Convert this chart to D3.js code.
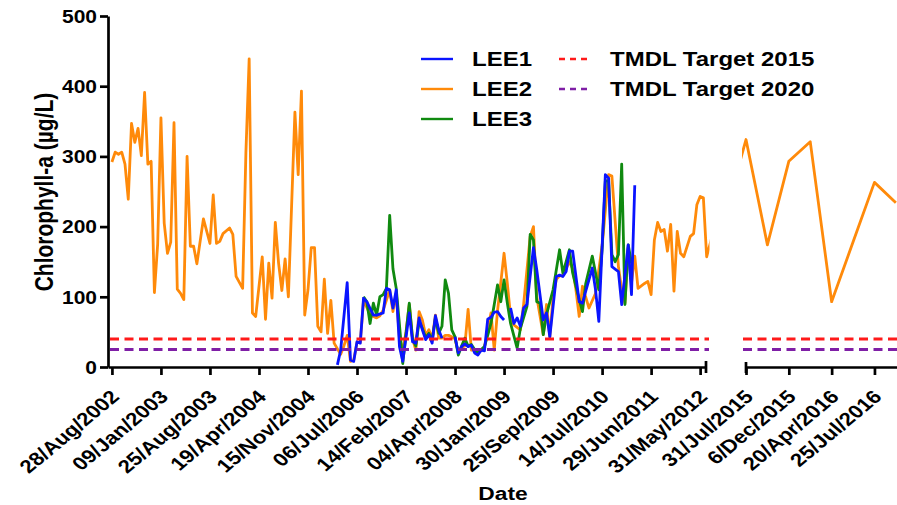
<!DOCTYPE html>
<html>
<head>
<meta charset="utf-8">
<script src="https://cdn.jsdelivr.net/npm/d3@7"></script>
<style>
  body { margin: 0; background: #fff; }
  svg { display: block; }
  text { font-family: "Liberation Sans", Arial, sans-serif; font-weight: bold; fill: #000; }
</style>
</head>
<body>
<svg id="chart" width="897" height="505"></svg>
<script>
// ---- data -------------------------------------------------------------
const yTicks = [0, 100, 200, 300, 400, 500];

// sampling-run index of each labelled tick (15 runs per tick, early period)
const earlyTickSamples = [0, 15, 30, 45, 60, 75, 90, 105, 120, 135, 150, 165, 180];
const earlyDates = ["28/Aug/2002", "09/Jan/2003", "25/Aug/2003", "19/Apr/2004", "15/Nov/2004",
  "06/Jul/2006", "14/Feb/2007", "04/Apr/2008", "30/Jan/2009", "25/Sep/2009",
  "14/Jul/2010", "29/Jun/2011", "31/May/2012"];

const lateTickSamples = [0, 2, 4, 6];
const lateDates = ["31/Jul/2015", "6/Dec/2015", "20/Apr/2016", "25/Jul/2016"];

// LEE2, 2002-2012 (run index, chlorophyll-a µg/L)
const lee2Sample = [0,1,2,3,4,5,6,7,8,9,10,11,12,13,14,15,16,17,18,19,20,21,22,23,24,25,26,28,30,31,32,33,34,36,37,38,40,41,42,43,44,46,47,48,49,50,51,52,53,54,56,57,58,59,60,61,62,63,64,65,66,67,68,70,71,72,73,74,75,76,77,78,79,80,81,82,83,84,85,86,87,88,89,90,91,92,93,94,95,96,97,98,99,100,101,102,103,104,105,106,107,108,109,110,111,112,113,114,116,117,118,119,120,121,122,123,125,126,128,129,130,132,133,134,135,136,137,138,139,140,141,142,143,144,146,148,150,152,153,155,156,157,158,159,160,161,163,164,165,166,167,168,169,170,171,172,173,174,175,177,178,179,180,181,182];
const lee2Value  = [292,306,303,306,289,239,347,320,340,301,391,289,293,106,175,355,205,162,178,348,111,105,96,300,172,172,147,211,176,245,176,179,190,198,189,129,112,305,439,77,72,157,68,148,98,206,148,109,154,100,363,274,393,74,110,170,170,58,50,125,48,95,34,18,30,45,8,10,35,35,95,85,75,72,70,73,81,95,110,79,105,40,24,50,89,40,24,79,67,45,53,40,74,41,41,45,45,43,40,20,28,30,82,24,25,20,24,28,77,24,80,120,162,119,72,60,53,90,186,200,100,46,89,43,100,125,130,130,140,150,140,110,72,115,84,105,172,274,272,143,110,91,170,120,158,112,119,122,103,181,206,193,196,165,203,108,193,162,157,186,190,231,243,241,157];

// LEE2, 2015-2016
const lee2LateSample = [0, 1, 2, 3, 4, 5, 6, 7];
const lee2LateValue  = [324, 174, 293, 321, 93, 178, 263, 234];

// LEE1 (null = no sample, line breaks)
const lee1Sample = [69,70,72,73,74,75,76,77,78,80,81,83,84,85,86,87,88,89,91,92,93,94,95,96,97,98,99,100,101,102,105,106,107,108,109,110,111,112,113,114,115,116,117,118,119,120,121,122,123,124,125,126,127,129,130,132,133,134,135,136,137,138,139,140,141,142,143,144,145,147,148,149,151,152,153,155,156,158,159,160];
const lee1Value  = [3,24,120,10,8,36,34,98,93,74,74,77,112,110,84,110,29,8,77,36,34,70,53,39,46,34,73,53,41,null,43,20,29,33,29,31,20,17,24,23,68,71,78,79,72,67,null,84,62,70,58,84,89,170,139,67,77,43,86,129,131,129,136,165,165,129,93,91,108,141,110,65,274,269,143,136,89,174,103,259];

// LEE3
const lee3Sample = [77,78,79,80,81,82,83,84,85,86,87,88,89,91,92,93,94,95,96,97,98,99,100,101,102,103,104,105,106,107,108,109,110,111,112,113,114,115,116,117,118,119,120,121,122,124,125,127,128,129,130,131,132,133,135,137,138,139,140,141,143,144,145,147,148,149,150,151,152,153,154,155,156,157,158,159];
const lee3Value  = [100,93,62,91,74,100,103,112,216,140,112,60,5,91,40,30,65,55,42,48,38,70,48,58,124,105,53,43,17,30,41,30,32,25,20,25,29,45,62,89,117,93,124,91,62,27,55,86,189,181,93,91,46,75,110,167,134,150,167,134,96,79,119,158,134,110,167,265,265,160,150,160,289,89,174,148];

const targets = [
  { name: "TMDL Target 2015", value: 40, color: "#ff1a1a" },
  { name: "TMDL Target 2020", value: 25, color: "#7f1fa6" }
];
const seriesColors = { LEE1: "#0a14ff", LEE2: "#ff8a0a", LEE3: "#108a10" };

// ---- layout -----------------------------------------------------------
const SX = 1.2;                 // horizontal widening of all lettering
const svg = d3.select("#chart");
const yBase = 367, yTop = 16;
const earlyRange = [108, 706], lateRange = [746, 898];

const y = d3.scaleLinear().domain([0, 500]).range([yBase, yTop]);
const xEarly = d3.scaleLinear().domain([-1.2, 181.8]).range(earlyRange);
const xLate = d3.scaleLinear().domain([0, 7.1]).range(lateRange);

const zip = (s, v) => s.map((d, i) => ({ s: d, v: v[i] }));
const lee2Early = zip(lee2Sample, lee2Value);
const lee2Late = zip(lee2LateSample, lee2LateValue);
const lee1 = zip(lee1Sample, lee1Value);
const lee3 = zip(lee3Sample, lee3Value);

// clipping regions of the two axis segments
const defs = svg.append("defs");
defs.append("clipPath").attr("id", "clipEarly").append("rect")
  .attr("x", earlyRange[0]).attr("y", 0).attr("width", 709.5 - earlyRange[0]).attr("height", yBase + 2);
defs.append("clipPath").attr("id", "clipLate").append("rect")
  .attr("x", 742).attr("y", 0).attr("width", 897 - 742).attr("height", yBase + 2);

// the LEE2 line runs on across the axis break; each side shows its clipped stub
const bridgeEarly = { s: lee2Sample[lee2Sample.length - 1] + 9.5, v: lee2LateValue[0] };
const bridgeLate = { s: -1.5, v: lee2Value[lee2Value.length - 1] };

const lineEarly = d3.line().defined(d => d.v != null).x(d => xEarly(d.s)).y(d => y(d.v));
const lineLate = d3.line().x(d => xLate(d.s)).y(d => y(d.v));

const gEarly = svg.append("g").attr("clip-path", "url(#clipEarly)");
const gLate = svg.append("g").attr("clip-path", "url(#clipLate)");

const lw = 2.8;
function drawSeries(g, data, line, color) {
  g.append("path").datum(data)
    .attr("d", line).attr("fill", "none").attr("stroke", color)
    .attr("stroke-width", lw).attr("stroke-linejoin", "round");
}
drawSeries(gEarly, lee2Early.concat([bridgeEarly]), lineEarly, seriesColors.LEE2);
drawSeries(gEarly, lee3, lineEarly, seriesColors.LEE3);
drawSeries(gEarly, lee1, lineEarly, seriesColors.LEE1);
drawSeries(gLate, [bridgeLate].concat(lee2Late), lineLate, seriesColors.LEE2);

// TMDL target lines across both segments
targets.forEach(t => {
  [[earlyRange[0] + 2, 709], [743, 897]].forEach(([x0, x1]) => {
    svg.append("line").attr("x1", x0).attr("x2", x1)
      .attr("y1", y(t.value)).attr("y2", y(t.value))
      .attr("stroke", t.color).attr("stroke-width", 3)
      .attr("stroke-dasharray", "9,5.5");
  });
});

// ---- axes -------------------------------------------------------------
const axisW = 2.7;
const yAxis = svg.append("g").attr("transform", `translate(${earlyRange[0]},0)`)
  .call(d3.axisLeft(y).tickValues(yTicks).tickSize(8).tickSizeOuter(0).tickFormat(d3.format("d")));
yAxis.select(".domain").attr("stroke-width", axisW);
yAxis.selectAll(".tick line").attr("stroke-width", axisW);
yAxis.selectAll(".tick text")
  .attr("x", null).attr("dy", "0.36em")
  .attr("transform", `translate(-11,0) scale(${SX},1)`)
  .style("font-size", "17.5px");

function bottomAxis(scale, tickVals, labels) {
  const g = svg.append("g").attr("transform", `translate(0,${yBase})`)
    .call(d3.axisBottom(scale).tickValues(tickVals).tickSize(8).tickSizeOuter(0)
      .tickFormat((d, i) => labels[i]));
  g.select(".domain").attr("stroke-width", axisW);
  g.selectAll(".tick line").attr("stroke-width", axisW);
  g.selectAll(".tick text")
    .attr("y", null).attr("dy", null)
    .attr("text-anchor", "end")
    .attr("transform", `translate(8,31) scale(${SX},1) rotate(-45)`)
    .style("font-size", "18.5px");
  return g;
}
bottomAxis(xEarly, earlyTickSamples, earlyDates);
bottomAxis(xLate, lateTickSamples, lateDates);

// break marks: end caps of both segments
svg.append("line").attr("x1", earlyRange[1]).attr("x2", earlyRange[1])
  .attr("y1", yBase - 6).attr("y2", yBase + 6).attr("stroke", "#000").attr("stroke-width", axisW);
svg.append("line").attr("x1", lateRange[0]).attr("x2", lateRange[0])
  .attr("y1", yBase - 5).attr("y2", yBase + 6).attr("stroke", "#000").attr("stroke-width", axisW);

// axis titles
svg.append("text")
  .attr("transform", `translate(53,192) scale(${SX},1) rotate(-90)`)
  .attr("text-anchor", "middle").style("font-size", "21px")
  .text("Chlorophyll-a (µg/L)");
svg.append("text")
  .attr("transform", `translate(503,500) scale(${SX},1)`)
  .attr("text-anchor", "middle").style("font-size", "19px")
  .text("Date");

// ---- legend -----------------------------------------------------------
const legendItems = [
  { name: "LEE1", color: seriesColors.LEE1, dash: null, col: 0, row: 0 },
  { name: "LEE2", color: seriesColors.LEE2, dash: null, col: 0, row: 1 },
  { name: "LEE3", color: seriesColors.LEE3, dash: null, col: 0, row: 2 },
  { name: targets[0].name, color: targets[0].color, dash: "6,5", col: 1, row: 0 },
  { name: targets[1].name, color: targets[1].color, dash: "6,5", col: 1, row: 1 }
];
const legend = svg.append("g");
legendItems.forEach(it => {
  const x0 = it.col === 0 ? 421 : 559;
  const yy = 59 + it.row * 30;
  legend.append("line").attr("x1", x0).attr("x2", x0 + 32).attr("y1", yy).attr("y2", yy)
    .attr("stroke", it.color).attr("stroke-width", 2.4)
    .attr("stroke-dasharray", it.dash);
  legend.append("text")
    .attr("transform", `translate(${x0 + 51},${yy + 7}) scale(${SX},1)`)
    .style("font-size", "20px").text(it.name);
});
</script>
</body>
</html>
